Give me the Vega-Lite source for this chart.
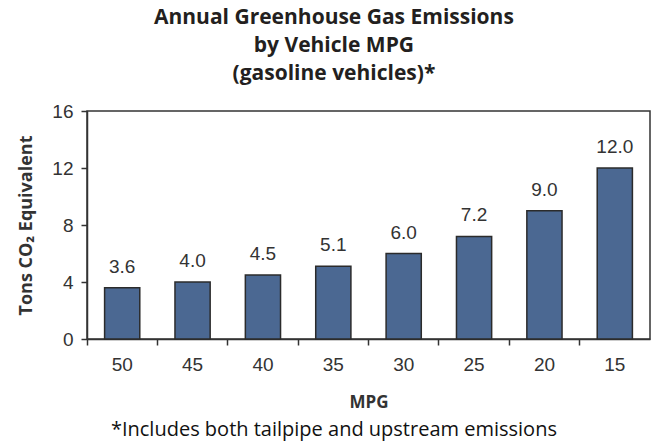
{
  "$schema": "https://vega.github.io/schema/vega-lite/v6.json",
  "padding": {"left": 17, "top": 7, "right": 4, "bottom": 3},
  "background": "white",
  "title": {
    "text": ["Annual Greenhouse Gas Emissions", "by Vehicle MPG", "(gasoline vehicles)*"],
    "font": "Open Sans",
    "fontSize": 21,
    "fontWeight": "bold",
    "color": "#231f20",
    "lineHeight": 28,
    "anchor": "middle",
    "frame": "bounds",
    "offset": 17
  },
  "vconcat": [
    {
      "width": 563,
      "height": 228,
      "title": {
        "text": "*Includes both tailpipe and upstream emissions",
        "orient": "bottom",
        "font": "Open Sans",
        "fontSize": 20,
        "fontWeight": "normal",
        "color": "#111111",
        "anchor": "middle",
        "frame": "bounds",
        "offset": 10
      },
      "data": {
        "values": [
          {"mpg": "50", "tons": 3.6},
          {"mpg": "45", "tons": 4.0},
          {"mpg": "40", "tons": 4.5},
          {"mpg": "35", "tons": 5.1},
          {"mpg": "30", "tons": 6.0},
          {"mpg": "25", "tons": 7.2},
          {"mpg": "20", "tons": 9.0},
          {"mpg": "15", "tons": 12.0}
        ]
      },
      "encoding": {
        "x": {
          "field": "mpg",
          "type": "ordinal",
          "sort": null,
          "scale": {"paddingInner": 0.5, "paddingOuter": 0.25},
          "axis": {
            "title": "MPG",
            "titleFont": "Open Sans",
            "titleFontSize": 17,
            "titleFontWeight": "bold",
            "titleColor": "#333333",
            "titlePadding": 20,
            "labelAngle": 0,
            "labelFont": "Liberation Sans",
            "labelFontSize": 19,
            "labelColor": "#333333",
            "labelPadding": 10,
            "bandPosition": -0.5,
            "domainColor": "#333333",
            "domainWidth": 1.5,
            "tickColor": "#333333",
            "tickWidth": 1.5,
            "tickSize": 6,
            "grid": false
          }
        },
        "y": {
          "field": "tons",
          "type": "quantitative",
          "scale": {"domain": [0, 16], "nice": false},
          "axis": {
            "title": "Tons CO₂ Equivalent",
            "titleFont": "Open Sans",
            "titleFontSize": 18,
            "titleFontWeight": "bold",
            "titleColor": "#333333",
            "titlePadding": 16,
            "values": [0, 4, 8, 12, 16],
            "labelFont": "Liberation Sans",
            "labelFontSize": 19,
            "labelColor": "#333333",
            "labelPadding": 8,
            "domainColor": "#333333",
            "domainWidth": 1.5,
            "tickColor": "#333333",
            "tickWidth": 1.5,
            "tickSize": 6,
            "grid": false
          }
        }
      },
      "layer": [
        {
          "mark": {"type": "bar", "color": "#4b6892", "stroke": "#2b2b2b", "strokeWidth": 1.5}
        },
        {
          "mark": {
            "type": "text",
            "baseline": "alphabetic",
            "dy": -15,
            "font": "Liberation Sans",
            "fontSize": 19,
            "color": "#333333"
          },
          "encoding": {
            "text": {"field": "tons", "type": "quantitative", "format": ".1f"}
          }
        }
      ]
    }
  ],
  "config": {
    "view": {"stroke": "#333333", "strokeWidth": 1.5},
    "concat": {"spacing": 0}
  }
}
